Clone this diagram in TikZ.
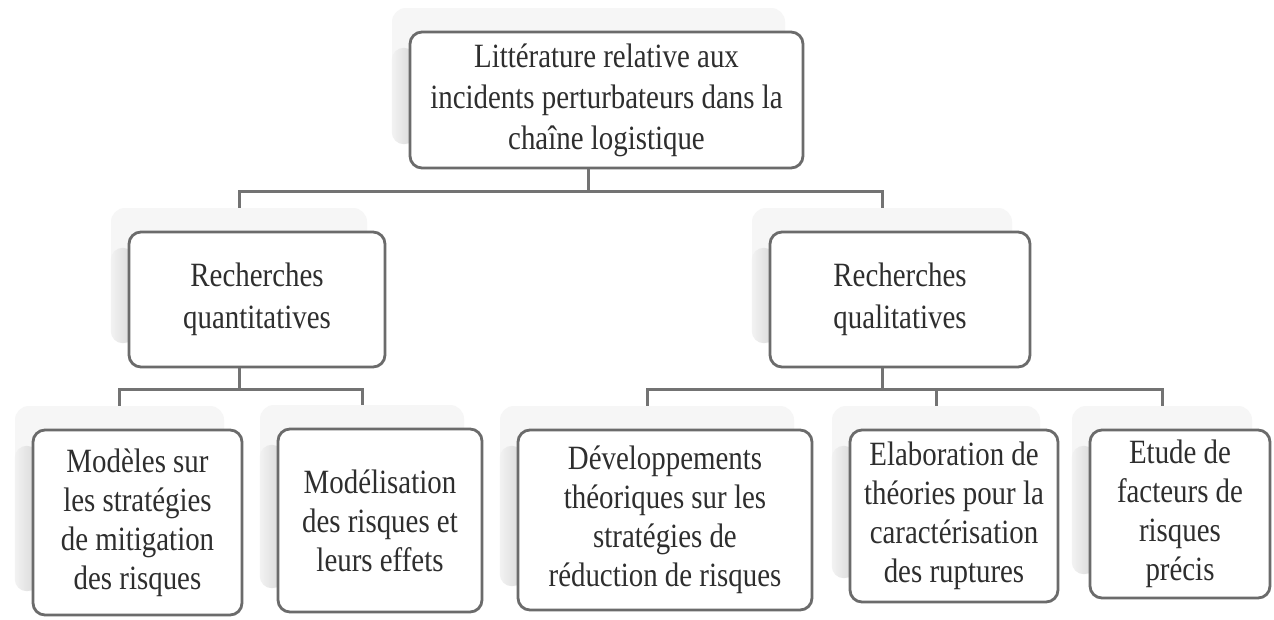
\documentclass[tikz,border=0pt]{standalone}
\usepackage{fontspec}
\setmainfont{Liberation Serif}[FakeStretch=0.85]
\tikzset{
  conn/.style={draw=black!55, line width=3pt},
  mainbox/.style={draw=black!58, line width=2.8pt, rounded corners=12pt, fill=white, align=center, text=black!82, inner sep=0pt},
  shadowbox/.style={fill=gray!7, rounded corners=14pt, inner sep=0pt},
  stripshade/.style={left color=gray!10, right color=gray!32, rounded corners=12pt},
}
\newcommand\smartnode[7]{%
  \node[shadowbox, minimum width=#4pt, minimum height=#5pt] (s#1) at ({#2-18},{#3-24}) {};
  \shade[stripshade] ([yshift=-40pt]s#1.north west) -- (s#1.south west) -- ([xshift=24pt]s#1.south west) -- ([xshift=24pt,yshift=-40pt]s#1.north west) -- cycle;
  \node[mainbox, minimum width=#4pt, minimum height=#5pt, font=#6] (#1) at (#2,#3) {#7};
}
\begin{document}
\begin{tikzpicture}[x=1pt,y=-1pt]
\useasboundingbox (0,0) rectangle (1274,619);
\fill[white] (0,0) rectangle (1274,619);
\smartnode{T}{606.5}{100}{393}{136}{\fontsize{34}{41}\selectfont}{Littérature relative aux\\incidents perturbateurs dans la\\chaîne logistique}
\smartnode{Qn}{257}{299.5}{256}{135}{\fontsize{34}{42}\selectfont}{Recherches\\quantitatives}
\smartnode{Ql}{900}{299.5}{260}{135}{\fontsize{34}{42}\selectfont}{Recherches\\qualitatives}
\smartnode{Ba}{137.5}{522.5}{209}{185}{\fontsize{34}{39}\selectfont}{Modèles sur\\les stratégies\\de mitigation\\des risques}
\smartnode{Bb}{380}{520.5}{204}{183}{\fontsize{34}{39}\selectfont}{Modélisation\\des risques et\\leurs effets}
\smartnode{Bc}{665}{520}{294}{180}{\fontsize{34}{39}\selectfont}{Développements\\théoriques sur les\\stratégies de\\réduction de risques}
\smartnode{Bd}{954}{516}{208}{172}{\fontsize{34}{39}\selectfont}{Elaboration de\\théories pour la\\caractérisation\\des ruptures}
\smartnode{Be}{1180}{514}{180}{168}{\fontsize{34}{39}\selectfont}{Etude de\\facteurs de\\risques\\précis}
\coordinate (j0) at (0,191);
\coordinate (j1) at (0,389);
\draw[conn] (sT.center |- T.south) -- (sT.center |- j0);
\draw[conn] (sQn.north) -- (sQn.north |- j0) -- (sQl.north |- j0) -- (sQl.north);
\draw[conn] (sQn.center |- Qn.south) -- (sQn.center |- j1);
\draw[conn] (sBa.north) -- (sBa.north |- j1) -- (sBb.north |- j1) -- (sBb.north);
\draw[conn] (sQl.center |- Ql.south) -- (sQl.center |- j1);
\draw[conn] (sBc.north) -- (sBc.north |- j1) -- (sBe.north |- j1) -- (sBe.north);
\draw[conn] (sBd.north) -- (sBd.north |- j1);
\end{tikzpicture}
\end{document}
